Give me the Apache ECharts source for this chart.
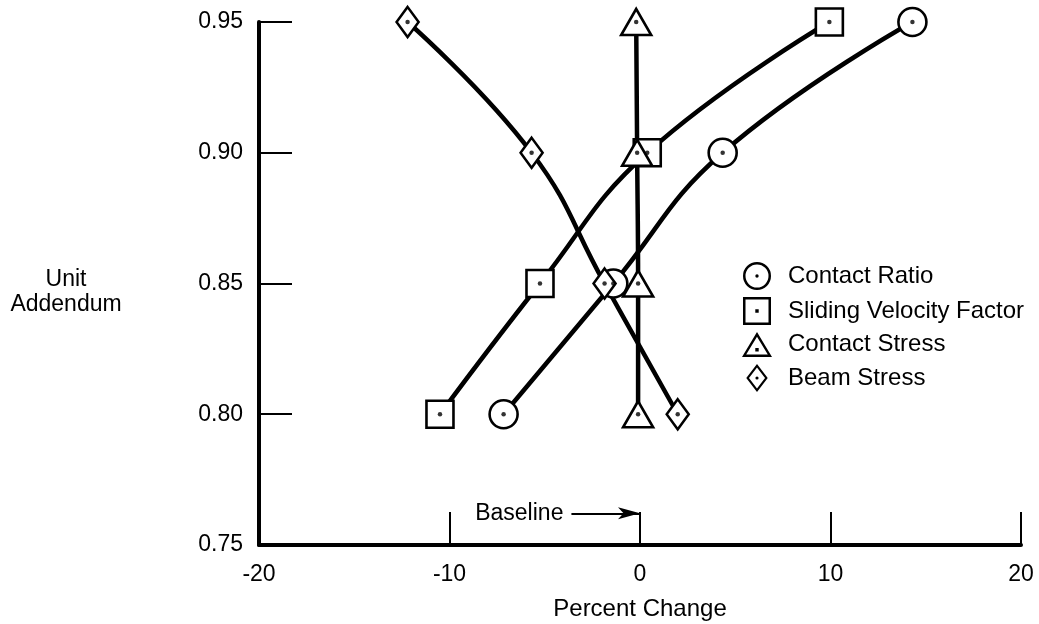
<!DOCTYPE html>
<html>
<head>
<meta charset="utf-8">
<script src="https://cdn.jsdelivr.net/npm/echarts@6/dist/echarts.min.js"></script>
<style>html,body{margin:0;padding:0;background:#fff;}#c{width:1039px;height:624px;}</style>
</head>
<body>
<div id="c"></div>
<script>
// ---- data ----
const unitAddendum = [0.80, 0.85, 0.90, 0.95];
const contactRatio = [-7.16, -1.4, 4.34, 14.3];
const slidingVelocityFactor = [-10.5, -5.25, 0.38, 9.94];
const contactStress = [-0.1, -0.1, -0.15, -0.2];
const beamStress = [1.98, -1.86, -5.69, -12.2];
const seriesNames = ['Contact Ratio', 'Sliding Velocity Factor', 'Contact Stress', 'Beam Stress'];
const xTicks = [-20, -10, 0, 10, 20];
const yTicks = [0.75, 0.80, 0.85, 0.90, 0.95];
const baselineFrom = -3.6, baselineTo = 0, baselineLevel = 0.7621;

const FONT = 'Liberation Sans, Arial, Helvetica, sans-serif';
const allX = [contactRatio, slidingVelocityFactor, contactStress, beamStress];
const symbols = ['circle', 'rect', 'triangle', 'diamond'];
const symbolSizes = [28, 27, [30, 26], [22, 30]];
const legendIcons = [
  'path://M0 -14A14 14 0 1 1 0 14A14 14 0 1 1 0 -14Z M0 -11.5A11.5 11.5 0 1 0 0 11.5A11.5 11.5 0 1 0 0 -11.5Z M0 -1.7A1.7 1.7 0 1 1 0 1.7A1.7 1.7 0 1 1 0 -1.7Z',
  'path://M-14 -14L14 -14L14 14L-14 14Z M-11.5 -11.5L-11.5 11.5L11.5 11.5L11.5 -11.5Z M-1.7 -1.7L1.7 -1.7L1.7 1.7L-1.7 1.7Z',
  'path://M0 -14L15 11L-15 11Z M0 -9.2L-10.8 8.6L10.8 8.6Z M-1.7 2L1.7 2L1.7 5.4L-1.7 5.4Z',
  'path://M0 -15L11.5 0L0 15L-11.5 0Z M0 -11.2L-8.6 0L0 11.2L8.6 0Z M0 -1.7A1.7 1.7 0 1 1 0 1.7A1.7 1.7 0 1 1 0 -1.7Z'
];

function pairs(xs) { return xs.map((x, i) => [x, unitAddendum[i]]); }

const series = [];
allX.forEach((xs, i) => {
  const s = {
    name: seriesNames[i] + ' curve',
    type: 'line',
    data: pairs(xs),
    smooth: 0.45,
    symbol: 'none',
    lineStyle: { color: '#000', width: 4.5 },
    z: 2,
    silent: true
  };
  if (i === 0) {
    s.markLine = {
      silent: true,
      symbol: ['none', 'arrow'],
      symbolSize: [9, 22],
      lineStyle: { color: '#000', width: 2, type: 'solid' },
      label: { show: true, position: 'start', formatter: 'Baseline', color: '#000', fontSize: 23, fontFamily: FONT, distance: 8 },
      data: [[{ coord: [baselineFrom, baselineLevel] }, { coord: [baselineTo, baselineLevel] }]]
    };
  }
  series.push(s);
});
allX.forEach((xs, i) => {
  series.push({
    name: seriesNames[i],
    type: 'scatter',
    data: pairs(xs),
    symbol: symbols[i],
    symbolSize: symbolSizes[i],
    itemStyle: { color: '#fff', borderColor: '#000', borderWidth: 2.6, opacity: 1 },
    z: 4,
    silent: true
  });
  series.push({
    name: seriesNames[i] + ' dot',
    type: 'scatter',
    data: pairs(xs),
    symbol: 'circle',
    symbolSize: 4.5,
    itemStyle: { color: '#000' },
    z: 5,
    silent: true
  });
});

const chart = echarts.init(document.getElementById('c'), null, { renderer: 'canvas' });
chart.setOption({
  animation: false,
  backgroundColor: '#fff',
  grid: { left: 259, right: 18, top: 22, bottom: 79, containLabel: false, outerBoundsMode: 'none' },
  legend: {
    orient: 'vertical',
    left: 737,
    top: 257,
    itemWidth: 30,
    itemHeight: 28,
    itemGap: 7,
    selectedMode: false,
    textStyle: { color: '#000', fontSize: 24, fontFamily: FONT, padding: [0, 0, 0, 11] },
    data: seriesNames.map((n, i) => ({ name: n, icon: legendIcons[i], itemStyle: { color: '#000', borderWidth: 0 } }))
  },
  xAxis: {
    type: 'value',
    min: xTicks[0], max: xTicks[xTicks.length - 1], interval: 10,
    name: 'Percent Change',
    nameLocation: 'middle',
    nameGap: 52,
    nameTextStyle: { color: '#000', fontSize: 24, fontFamily: FONT },
    axisLine: { show: true, onZero: false, lineStyle: { color: '#000', width: 4 } },
    axisTick: { show: true, inside: true, length: 33, lineStyle: { color: '#000', width: 2 } },
    axisLabel: { color: '#000', fontSize: 23, fontFamily: FONT, margin: 18 },
    splitLine: { show: false }
  },
  yAxis: {
    type: 'value',
    min: yTicks[0], max: yTicks[yTicks.length - 1], interval: 0.05,
    name: '{s| }\nUnit\nAddendum',
    nameLocation: 'middle',
    nameRotate: 0,
    nameGap: 193,
    nameTextStyle: {
      color: '#000', fontSize: 23, fontFamily: FONT, align: 'center', verticalAlign: 'middle', lineHeight: 25,
      rich: { s: { fontSize: 2, lineHeight: 17 } }
    },
    axisLine: { show: true, onZero: false, lineStyle: { color: '#000', width: 4 } },
    axisTick: { show: true, inside: true, length: 33, lineStyle: { color: '#000', width: 2 } },
    axisLabel: { color: '#000', fontSize: 23, fontFamily: FONT, margin: 16, formatter: v => v.toFixed(2) },
    splitLine: { show: false }
  },
  series: series
});
</script>
</body>
</html>
